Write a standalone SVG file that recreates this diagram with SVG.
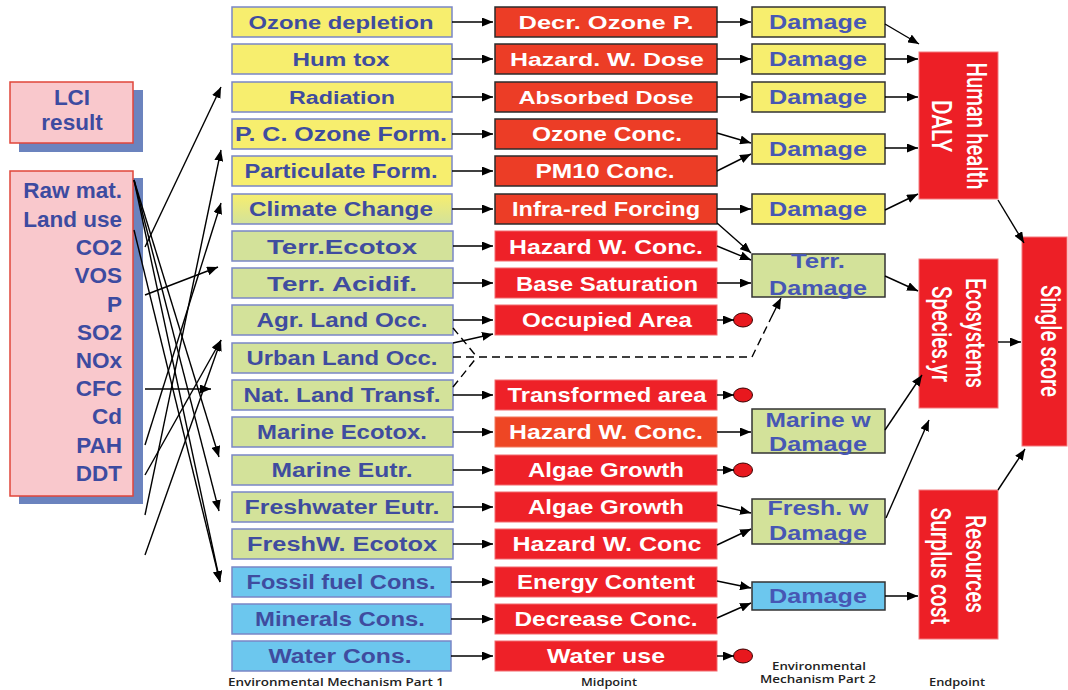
<svg xmlns="http://www.w3.org/2000/svg" width="1068" height="690" viewBox="0 0 1068 690">
  <defs>
    <marker id="ah" markerWidth="11" markerHeight="9" refX="11" refY="4.5" orient="auto" markerUnits="userSpaceOnUse">
      <path d="M0,0 L11,4.5 L0,9 z" fill="#000"/>
    </marker>
    <linearGradient id="ygr" x1="0" y1="0" x2="0" y2="1">
      <stop offset="0" stop-color="#F7EE6E"/>
      <stop offset="1" stop-color="#D3E29A"/>
    </linearGradient>
    <style>
      .c1 { stroke: #7A86C6; stroke-width: 1.5; }
      .y { fill: #F7EE6E; }
      .g { fill: #D3E29A; }
      .b { fill: #6CC7EE; }
      .yg { fill: url(#ygr); }
      .md { fill: #EC3D26; stroke: #2B2B2B; stroke-width: 1.5; }
      .mo { fill: #EE4624; stroke: #F27A5E; stroke-width: 1; }
      .mr { fill: #EE2128; stroke: #F26A6E; stroke-width: 1; }
      .dm { stroke: #333; stroke-width: 1.5; }
      .ep { fill: #ED1F26; stroke: #F37A7E; stroke-width: 1; }
      .dot { fill: #E8181E; stroke: #3A0000; stroke-width: 1; }
      .t1 { font-family: "Liberation Sans", Arial, sans-serif; font-weight: bold; fill: #3F4C9F; text-anchor: middle; }
      .t2 { font-family: "Liberation Sans", Arial, sans-serif; font-weight: bold; fill: #FFFFFF; text-anchor: middle; }
      .t3 { font-family: "Liberation Sans", Arial, sans-serif; font-weight: bold; fill: #4757B4; text-anchor: middle; font-size: 21px; }
      .te { font-family: Roboto, "Liberation Sans", sans-serif; font-weight: 500; fill: #FFFFFF; text-anchor: middle; font-size: 20.5px; }
      .tl { font-family: "Liberation Sans", Arial, sans-serif; font-weight: bold; fill: #3D4BA0; font-size: 22.5px; }
      .cap { font-family: "Open Sans", "Liberation Sans", sans-serif; font-weight: 600; fill: #222; text-anchor: middle; font-size: 11.5px; }
      .cn { stroke: #000; stroke-width: 1.4; fill: none; marker-end: url(#ah); }
      .dash { stroke: #000; stroke-width: 1.4; fill: none; stroke-dasharray: 8 5; }
    </style>
  </defs>

  <rect width="1068" height="690" fill="#FFFFFF"/>

  <!-- inventory input boxes -->
  <g id="lci-result">
    <rect x="19" y="90" width="124" height="62" fill="#6B83BE"/>
    <rect x="10" y="82" width="123" height="61" fill="#F9C8CC" stroke="#E0453A" stroke-width="1.5"/>
    <text class="tl" x="72" y="105" text-anchor="middle">LCI</text>
    <text class="tl" x="72" y="130" text-anchor="middle">result</text>
  </g>
  <g id="lci-flows">
    <rect x="19" y="178" width="124" height="326" fill="#6B83BE"/>
    <rect x="10" y="171" width="123" height="325" fill="#F9C8CC" stroke="#E0453A" stroke-width="1.5"/>
    <g class="tl" text-anchor="end">
      <text x="122" y="198">Raw mat.</text>
      <text x="122" y="227">Land use</text>
      <text x="122" y="255">CO2</text>
      <text x="122" y="283">VOS</text>
      <text x="122" y="312">P</text>
      <text x="122" y="340">SO2</text>
      <text x="122" y="368">NOx</text>
      <text x="122" y="396">CFC</text>
      <text x="122" y="424">Cd</text>
      <text x="122" y="453">PAH</text>
      <text x="122" y="481">DDT</text>
    </g>
  </g>

  <!-- environmental mechanism part 1 -->
  <g id="ozone-depletion"><rect class="c1 y" x="232" y="7" width="220" height="30"/><text class="t1" x="341" y="29" font-size="18" textLength="185" lengthAdjust="spacingAndGlyphs">Ozone depletion</text></g>
  <g id="hum-tox"><rect class="c1 y" x="232" y="44" width="220" height="30"/><text class="t1" x="341" y="66" font-size="18" textLength="97" lengthAdjust="spacingAndGlyphs">Hum tox</text></g>
  <g id="radiation"><rect class="c1 y" x="232" y="82" width="220" height="30"/><text class="t1" x="342" y="104" font-size="18" textLength="106" lengthAdjust="spacingAndGlyphs">Radiation</text></g>
  <g id="pc-ozone-form"><rect class="c1 y" x="232" y="119" width="220" height="30"/><text class="t1" x="341" y="141" font-size="19.5" textLength="212" lengthAdjust="spacingAndGlyphs">P. C. Ozone Form.</text></g>
  <g id="particulate-form"><rect class="c1 y" x="232" y="156" width="220" height="30"/><text class="t1" x="341" y="178" font-size="19.5" textLength="193" lengthAdjust="spacingAndGlyphs">Particulate Form.</text></g>
  <g id="climate-change"><rect class="c1 yg" x="232" y="194" width="220" height="30"/><text class="t1" x="341" y="216" font-size="19.5" textLength="184" lengthAdjust="spacingAndGlyphs">Climate Change</text></g>
  <g id="terr-ecotox"><rect class="c1 g" x="232" y="231" width="221" height="30"/><text class="t1" x="342" y="254" font-size="21" textLength="150" lengthAdjust="spacingAndGlyphs">Terr.Ecotox</text></g>
  <g id="terr-acidif"><rect class="c1 g" x="232" y="268" width="221" height="30"/><text class="t1" x="342" y="291" font-size="21" textLength="150" lengthAdjust="spacingAndGlyphs">Terr. Acidif.</text></g>
  <g id="agr-land-occ"><rect class="c1 g" x="232" y="305" width="221" height="30"/><text class="t1" x="342" y="327" font-size="20" textLength="171" lengthAdjust="spacingAndGlyphs">Agr. Land Occ.</text></g>
  <g id="urban-land-occ"><rect class="c1 g" x="232" y="343" width="221" height="30"/><text class="t1" x="342" y="365" font-size="20" textLength="191" lengthAdjust="spacingAndGlyphs">Urban Land Occ.</text></g>
  <g id="nat-land-transf"><rect class="c1 g" x="232" y="380" width="221" height="30"/><text class="t1" x="342" y="402" font-size="20" textLength="197" lengthAdjust="spacingAndGlyphs">Nat. Land Transf.</text></g>
  <g id="marine-ecotox"><rect class="c1 g" x="232" y="417" width="221" height="30"/><text class="t1" x="342" y="439" font-size="20" textLength="170" lengthAdjust="spacingAndGlyphs">Marine Ecotox.</text></g>
  <g id="marine-eutr"><rect class="c1 g" x="232" y="455" width="221" height="30"/><text class="t1" x="342" y="477" font-size="20" textLength="141" lengthAdjust="spacingAndGlyphs">Marine Eutr.</text></g>
  <g id="freshwater-eutr"><rect class="c1 g" x="232" y="492" width="221" height="30"/><text class="t1" x="342" y="514" font-size="20" textLength="195" lengthAdjust="spacingAndGlyphs">Freshwater Eutr.</text></g>
  <g id="freshw-ecotox"><rect class="c1 g" x="232" y="529" width="221" height="30"/><text class="t1" x="342" y="551" font-size="20" textLength="190" lengthAdjust="spacingAndGlyphs">FreshW. Ecotox</text></g>
  <g id="fossil-fuel-cons"><rect class="c1 b" x="232" y="567" width="219" height="30"/><text class="t1" x="341" y="589" font-size="20" textLength="189" lengthAdjust="spacingAndGlyphs">Fossil fuel Cons.</text></g>
  <g id="minerals-cons"><rect class="c1 b" x="232" y="604" width="219" height="30"/><text class="t1" x="340" y="626" font-size="20" textLength="170" lengthAdjust="spacingAndGlyphs">Minerals Cons.</text></g>
  <g id="water-cons"><rect class="c1 b" x="232" y="641" width="219" height="30"/><text class="t1" x="340" y="663" font-size="20" textLength="143" lengthAdjust="spacingAndGlyphs">Water Cons.</text></g>

  <!-- midpoints -->
  <g id="decr-ozone-p"><rect class="md" x="495" y="7" width="222" height="30"/><text class="t2" x="606" y="29" font-size="18.5" textLength="175" lengthAdjust="spacingAndGlyphs">Decr. Ozone P.</text></g>
  <g id="hazard-w-dose"><rect class="md" x="495" y="44" width="222" height="30"/><text class="t2" x="607" y="66" font-size="18.5" textLength="194" lengthAdjust="spacingAndGlyphs">Hazard. W. Dose</text></g>
  <g id="absorbed-dose"><rect class="md" x="495" y="82" width="222" height="30"/><text class="t2" x="606" y="104" font-size="18.5" textLength="175" lengthAdjust="spacingAndGlyphs">Absorbed Dose</text></g>
  <g id="ozone-conc"><rect class="md" x="495" y="119" width="222" height="30"/><text class="t2" x="607" y="141" font-size="19.5" textLength="150" lengthAdjust="spacingAndGlyphs">Ozone Conc.</text></g>
  <g id="pm10-conc"><rect class="md" x="495" y="156" width="222" height="30"/><text class="t2" x="605" y="178" font-size="19.5" textLength="139" lengthAdjust="spacingAndGlyphs">PM10 Conc.</text></g>
  <g id="infra-red-forcing"><rect class="md" x="495" y="194" width="222" height="30"/><text class="t2" x="606" y="216" font-size="20.5" textLength="188" lengthAdjust="spacingAndGlyphs">Infra-red Forcing</text></g>
  <g id="hazard-w-conc-terr"><rect class="mr" x="495" y="231" width="222" height="30"/><text class="t2" x="606" y="254" font-size="20.5" textLength="194" lengthAdjust="spacingAndGlyphs">Hazard W. Conc.</text></g>
  <g id="base-saturation"><rect class="mr" x="495" y="268" width="222" height="30"/><text class="t2" x="607" y="291" font-size="20.5" textLength="182" lengthAdjust="spacingAndGlyphs">Base Saturation</text></g>
  <g id="occupied-area"><rect class="mr" x="495" y="305" width="222" height="30"/><text class="t2" x="607" y="327" font-size="20.5" textLength="170" lengthAdjust="spacingAndGlyphs">Occupied Area</text></g>
  <g id="transformed-area"><rect class="mr" x="495" y="380" width="222" height="30"/><text class="t2" x="607" y="402" font-size="20.5" textLength="199" lengthAdjust="spacingAndGlyphs">Transformed area</text></g>
  <g id="hazard-w-conc-marine"><rect class="mo" x="495" y="417" width="222" height="30"/><text class="t2" x="606" y="439" font-size="20.5" textLength="194" lengthAdjust="spacingAndGlyphs">Hazard W. Conc.</text></g>
  <g id="algae-growth-marine"><rect class="mr" x="495" y="455" width="222" height="30"/><text class="t2" x="606" y="477" font-size="20.5" textLength="156" lengthAdjust="spacingAndGlyphs">Algae Growth</text></g>
  <g id="algae-growth-fresh"><rect class="mr" x="495" y="492" width="222" height="30"/><text class="t2" x="606" y="514" font-size="20.5" textLength="156" lengthAdjust="spacingAndGlyphs">Algae Growth</text></g>
  <g id="hazard-w-conc-fresh"><rect class="mr" x="495" y="529" width="222" height="30"/><text class="t2" x="607" y="551" font-size="20.5" textLength="189" lengthAdjust="spacingAndGlyphs">Hazard W. Conc</text></g>
  <g id="energy-content"><rect class="mr" x="495" y="567" width="222" height="30"/><text class="t2" x="606" y="589" font-size="20.5" textLength="178" lengthAdjust="spacingAndGlyphs">Energy Content</text></g>
  <g id="decrease-conc"><rect class="mr" x="495" y="604" width="222" height="30"/><text class="t2" x="606" y="626" font-size="20.5" textLength="183" lengthAdjust="spacingAndGlyphs">Decrease Conc.</text></g>
  <g id="water-use"><rect class="mr" x="495" y="641" width="222" height="30"/><text class="t2" x="606" y="663" font-size="20.5" textLength="118" lengthAdjust="spacingAndGlyphs">Water use</text></g>

  <!-- open ends (no damage pathway) -->
  <g id="end-dots">
    <ellipse class="dot" cx="743" cy="320" rx="9.5" ry="7"/>
    <ellipse class="dot" cx="743" cy="395" rx="9.5" ry="7"/>
    <ellipse class="dot" cx="743" cy="470" rx="9.5" ry="7"/>
    <ellipse class="dot" cx="743" cy="656" rx="9.5" ry="7"/>
  </g>

  <!-- environmental mechanism part 2 -->
  <g id="damage-ozone"><rect class="dm y" x="752" y="7" width="133" height="30"/><text class="t3" x="818" y="29" textLength="98" lengthAdjust="spacingAndGlyphs">Damage</text></g>
  <g id="damage-humtox"><rect class="dm y" x="752" y="44" width="133" height="30"/><text class="t3" x="818" y="66" textLength="98" lengthAdjust="spacingAndGlyphs">Damage</text></g>
  <g id="damage-radiation"><rect class="dm y" x="752" y="82" width="133" height="30"/><text class="t3" x="818" y="104" textLength="98" lengthAdjust="spacingAndGlyphs">Damage</text></g>
  <g id="damage-ozone-pm"><rect class="dm y" x="752" y="134" width="133" height="30"/><text class="t3" x="818" y="156" textLength="98" lengthAdjust="spacingAndGlyphs">Damage</text></g>
  <g id="damage-climate"><rect class="dm y" x="752" y="194" width="133" height="30"/><text class="t3" x="818" y="216" textLength="98" lengthAdjust="spacingAndGlyphs">Damage</text></g>
  <g id="terr-damage"><rect class="dm g" x="752" y="254" width="133" height="43"/>
    <text class="t3" x="818" y="268" textLength="54" lengthAdjust="spacingAndGlyphs">Terr.</text>
    <text class="t3" x="818" y="295" textLength="98" lengthAdjust="spacingAndGlyphs">Damage</text></g>
  <g id="marine-damage"><rect class="dm g" x="752" y="409" width="133" height="44"/>
    <text class="t3" x="818" y="427" textLength="105" lengthAdjust="spacingAndGlyphs">Marine w</text>
    <text class="t3" x="818" y="451" textLength="98" lengthAdjust="spacingAndGlyphs">Damage</text></g>
  <g id="fresh-damage"><rect class="dm g" x="752" y="499" width="133" height="45"/>
    <text class="t3" x="818" y="515" textLength="101" lengthAdjust="spacingAndGlyphs">Fresh. w</text>
    <text class="t3" x="818" y="540" textLength="98" lengthAdjust="spacingAndGlyphs">Damage</text></g>
  <g id="damage-resources"><rect class="dm b" x="752" y="582" width="133" height="28"/><text class="t3" x="818" y="603" textLength="98" lengthAdjust="spacingAndGlyphs">Damage</text></g>

  <!-- endpoints -->
  <g id="human-health"><rect class="ep" x="919" y="52" width="79" height="147"/>
    <text class="te" transform="translate(967,126) scale(1.36,1) rotate(90)" textLength="127" lengthAdjust="spacingAndGlyphs">Human health</text>
    <text class="te" transform="translate(932,126) scale(1.36,1) rotate(90)" textLength="52" lengthAdjust="spacingAndGlyphs">DALY</text></g>
  <g id="ecosystems"><rect class="ep" x="919" y="259" width="79" height="149"/>
    <text class="te" transform="translate(966,333) scale(1.36,1) rotate(90)" textLength="110" lengthAdjust="spacingAndGlyphs">Ecosystems</text>
    <text class="te" transform="translate(932,334) scale(1.36,1) rotate(90)" textLength="96" lengthAdjust="spacingAndGlyphs">Species.yr</text></g>
  <g id="resources"><rect class="ep" x="919" y="490" width="79" height="149"/>
    <text class="te" transform="translate(966,564) scale(1.36,1) rotate(90)" textLength="98" lengthAdjust="spacingAndGlyphs">Resources</text>
    <text class="te" transform="translate(931,566) scale(1.36,1) rotate(90)" textLength="117" lengthAdjust="spacingAndGlyphs">Surplus cost</text></g>
  <g id="single-score"><rect class="ep" x="1022" y="237" width="45" height="209"/>
    <text class="te" transform="translate(1041,341) scale(1.36,1) rotate(90)" textLength="112" lengthAdjust="spacingAndGlyphs">Single score</text></g>

  <!-- column captions -->
  <g id="captions">
    <text class="cap" x="336" y="686" textLength="216" lengthAdjust="spacingAndGlyphs">Environmental Mechanism Part 1</text>
    <text class="cap" x="609" y="686" textLength="56" lengthAdjust="spacingAndGlyphs">Midpoint</text>
    <text class="cap" x="819" y="670" textLength="94" lengthAdjust="spacingAndGlyphs">Environmental</text>
    <text class="cap" x="818" y="683" textLength="116" lengthAdjust="spacingAndGlyphs">Mechanism Part 2</text>
    <text class="cap" x="957" y="686" textLength="56" lengthAdjust="spacingAndGlyphs">Endpoint</text>
  </g>

  <g id="connectors">
    <!-- inventory flows to impact categories -->
    <line class="cn" x1="145" y1="247" x2="221" y2="87"/>
    <line class="cn" x1="145" y1="295" x2="218" y2="267"/>
    <line class="cn" x1="145" y1="445" x2="221" y2="203"/>
    <line class="cn" x1="145" y1="475" x2="221" y2="340"/>
    <line class="cn" x1="145" y1="515" x2="221" y2="150"/>
    <line class="cn" x1="145" y1="555" x2="221" y2="340"/>
    <line class="cn" x1="145" y1="389" x2="211" y2="389"/>
    <line class="cn" x1="134" y1="180" x2="219" y2="457"/>
    <line class="cn" x1="134" y1="180" x2="219" y2="511"/>
    <line class="cn" x1="134" y1="180" x2="220" y2="582"/>
    <line class="cn" x1="134" y1="230" x2="220" y2="582"/>

    <!-- impact categories to midpoints -->
    <line class="cn" x1="452" y1="22" x2="493" y2="22"/>
    <line class="cn" x1="452" y1="59" x2="493" y2="59"/>
    <line class="cn" x1="452" y1="97" x2="493" y2="97"/>
    <line class="cn" x1="452" y1="134" x2="493" y2="134"/>
    <line class="cn" x1="452" y1="171" x2="493" y2="171"/>
    <line class="cn" x1="452" y1="209" x2="493" y2="209"/>
    <line class="cn" x1="453" y1="246" x2="493" y2="246"/>
    <line class="cn" x1="453" y1="283" x2="493" y2="283"/>
    <line class="cn" x1="453" y1="320" x2="493" y2="320"/>
    <line class="cn" x1="453" y1="343" x2="493" y2="334"/>
    <line class="cn" x1="453" y1="395" x2="493" y2="395"/>
    <line class="cn" x1="453" y1="432" x2="493" y2="432"/>
    <line class="cn" x1="453" y1="470" x2="493" y2="470"/>
    <line class="cn" x1="453" y1="507" x2="493" y2="507"/>
    <line class="cn" x1="453" y1="544" x2="493" y2="544"/>
    <line class="cn" x1="451" y1="582" x2="493" y2="582"/>
    <line class="cn" x1="451" y1="619" x2="493" y2="619"/>
    <line class="cn" x1="451" y1="656" x2="493" y2="656"/>

    <!-- land use route to terrestrial damage -->
    <polyline class="dash" points="453,357 752,357 771,318"/>
    <line class="cn" x1="771" y1="318" x2="781" y2="298"/>
    <line class="dash" x1="453" y1="328" x2="477" y2="357"/>
    <line class="dash" x1="453" y1="387" x2="477" y2="357"/>

    <!-- midpoints to damage -->
    <line class="cn" x1="717" y1="22" x2="751" y2="22"/>
    <line class="cn" x1="717" y1="59" x2="751" y2="59"/>
    <line class="cn" x1="717" y1="97" x2="751" y2="97"/>
    <line class="cn" x1="717" y1="133" x2="751" y2="143"/>
    <line class="cn" x1="717" y1="171" x2="751" y2="154"/>
    <line class="cn" x1="717" y1="209" x2="751" y2="209"/>
    <line class="cn" x1="717" y1="223" x2="751" y2="253"/>
    <line class="cn" x1="717" y1="246" x2="751" y2="260"/>
    <line class="cn" x1="717" y1="283" x2="751" y2="283"/>
    <line class="cn" x1="717" y1="320" x2="734" y2="320"/>
    <line class="cn" x1="717" y1="395" x2="734" y2="395"/>
    <line class="cn" x1="717" y1="432" x2="751" y2="432"/>
    <line class="cn" x1="717" y1="470" x2="734" y2="470"/>
    <line class="cn" x1="717" y1="505" x2="751" y2="513"/>
    <line class="cn" x1="717" y1="545" x2="751" y2="529"/>
    <line class="cn" x1="717" y1="581" x2="751" y2="588"/>
    <line class="cn" x1="717" y1="618" x2="751" y2="603"/>
    <line class="cn" x1="717" y1="656" x2="734" y2="656"/>

    <!-- damage to endpoints -->
    <line class="cn" x1="885" y1="24" x2="919" y2="44"/>
    <line class="cn" x1="885" y1="59" x2="918" y2="59"/>
    <line class="cn" x1="885" y1="97" x2="918" y2="97"/>
    <line class="cn" x1="885" y1="148" x2="918" y2="148"/>
    <line class="cn" x1="885" y1="210" x2="918" y2="194"/>
    <line class="cn" x1="885" y1="276" x2="918" y2="291"/>
    <line class="cn" x1="885" y1="430" x2="922" y2="375"/>
    <line class="cn" x1="886" y1="518" x2="929" y2="420"/>
    <line class="cn" x1="885" y1="596" x2="918" y2="596"/>

    <!-- endpoints to single score -->
    <line class="cn" x1="998" y1="200" x2="1024" y2="243"/>
    <line class="cn" x1="998" y1="342" x2="1021" y2="342"/>
    <line class="cn" x1="998" y1="490" x2="1025" y2="449"/>
  </g>
</svg>
